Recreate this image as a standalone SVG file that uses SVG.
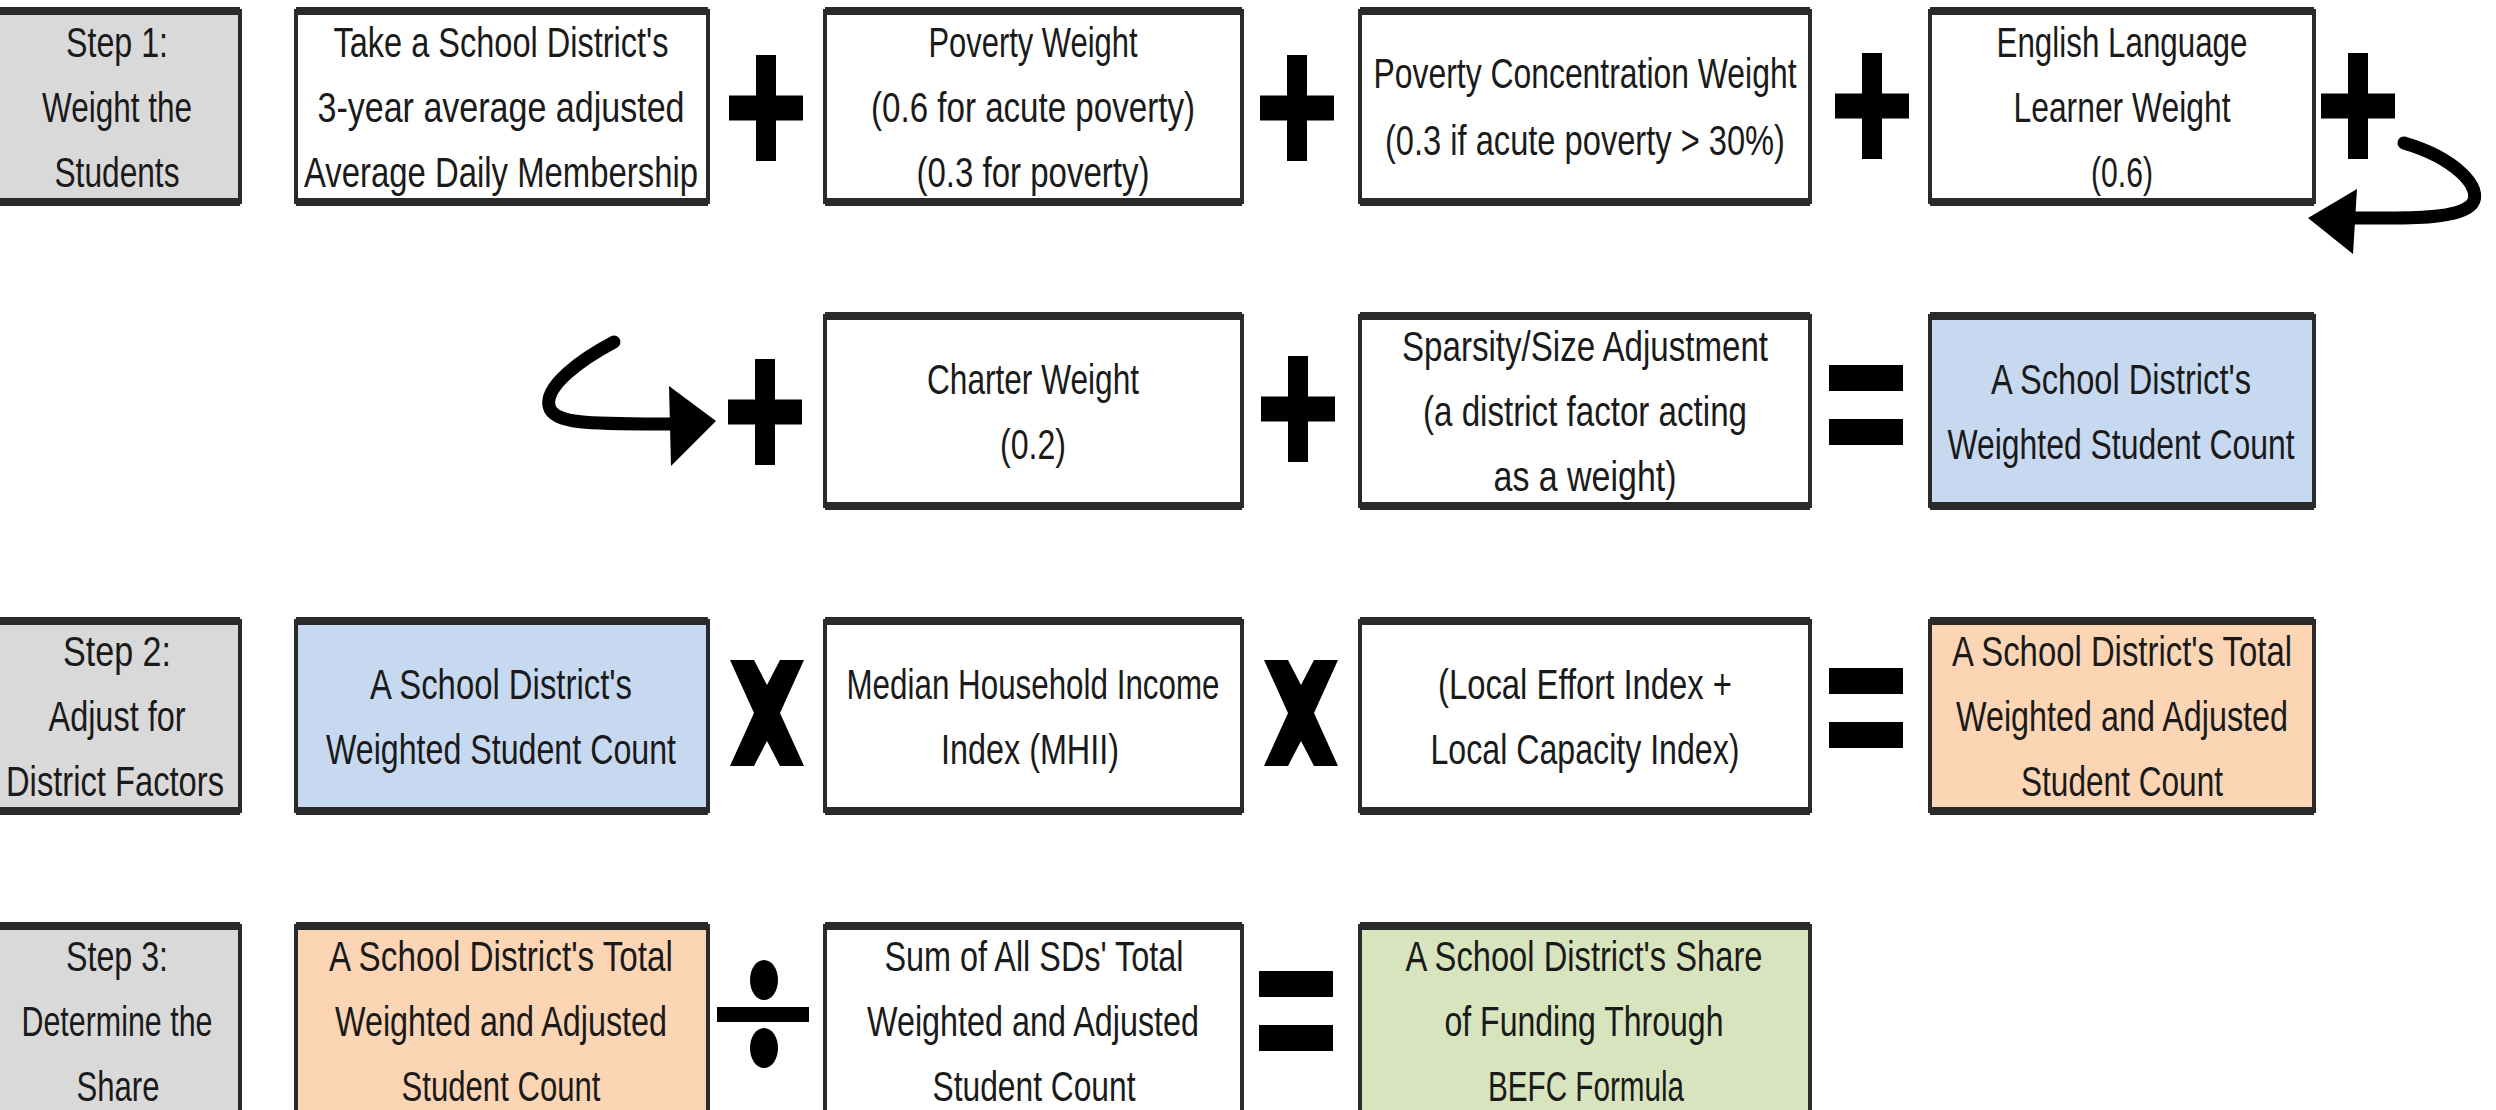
<svg xmlns="http://www.w3.org/2000/svg" width="2496" height="1110" viewBox="0 0 2496 1110">
<style>
.box{stroke:#2a2a2a;stroke-width:4}
.step{fill:#d9d9d9}
.wht{fill:#ffffff}
.blue{fill:#c6d9f0}
.orng{fill:#fcd5b5}
.grn{fill:#d7e4bd}
.hb{fill:none;stroke:#2a2a2a;stroke-width:8}
text{font-family:"Liberation Sans",Arial,sans-serif;font-size:42px;fill:#1a1a1a;text-anchor:middle}
.op{fill:#000}
.arr{fill:none;stroke:#000;stroke-width:13;stroke-linecap:round}
</style>

<!-- Row 1 -->
<g id="n-step1">
<rect class="box step" x="-6" y="11" width="246" height="191"/>
<path class="hb" d="M-6,11H240M-6,202H240"/>
<text x="117" y="56.5" textLength="102" lengthAdjust="spacingAndGlyphs">Step 1:</text>
<text x="117" y="121.5" textLength="150" lengthAdjust="spacingAndGlyphs">Weight the</text>
<text x="117" y="186.5" textLength="125" lengthAdjust="spacingAndGlyphs">Students</text>
</g>
<g id="n-adm">
<rect class="box wht" x="296" y="11" width="412" height="191"/>
<path class="hb" d="M296,11H708M296,202H708"/>
<text x="501" y="56.5" textLength="335" lengthAdjust="spacingAndGlyphs">Take a School District's</text>
<text x="501" y="121.5" textLength="367" lengthAdjust="spacingAndGlyphs">3-year average adjusted</text>
<text x="501" y="186.5" textLength="394" lengthAdjust="spacingAndGlyphs">Average Daily Membership</text>
</g>
<g id="n-poverty">
<rect class="box wht" x="825" y="11" width="417" height="191"/>
<path class="hb" d="M825,11H1242M825,202H1242"/>
<text x="1033" y="56.5" textLength="209" lengthAdjust="spacingAndGlyphs">Poverty Weight</text>
<text x="1033" y="121.5" textLength="324" lengthAdjust="spacingAndGlyphs">(0.6 for acute poverty)</text>
<text x="1033" y="186.5" textLength="233" lengthAdjust="spacingAndGlyphs">(0.3 for poverty)</text>
</g>
<g id="n-povconc">
<rect class="box wht" x="1360" y="11" width="450" height="191"/>
<path class="hb" d="M1360,11H1810M1360,202H1810"/>
<text x="1585" y="88" textLength="423" lengthAdjust="spacingAndGlyphs">Poverty Concentration Weight</text>
<text x="1585" y="155" textLength="400" lengthAdjust="spacingAndGlyphs">(0.3 if acute poverty &gt; 30%)</text>
</g>
<g id="n-ell">
<rect class="box wht" x="1930" y="11" width="384" height="191"/>
<path class="hb" d="M1930,11H2314M1930,202H2314"/>
<text x="2122" y="56.5" textLength="251" lengthAdjust="spacingAndGlyphs">English Language</text>
<text x="2122" y="121.5" textLength="217" lengthAdjust="spacingAndGlyphs">Learner Weight</text>
<text x="2122" y="186.5" textLength="62" lengthAdjust="spacingAndGlyphs">(0.6)</text>
</g>

<!-- Row 2 -->
<g id="n-charter">
<rect class="box wht" x="825" y="316" width="417" height="190"/>
<path class="hb" d="M825,316H1242M825,506H1242"/>
<text x="1033" y="393.5" textLength="212" lengthAdjust="spacingAndGlyphs">Charter Weight</text>
<text x="1033" y="458.5" textLength="66" lengthAdjust="spacingAndGlyphs">(0.2)</text>
</g>
<g id="n-sparsity">
<rect class="box wht" x="1360" y="316" width="450" height="190"/>
<path class="hb" d="M1360,316H1810M1360,506H1810"/>
<text x="1585" y="361" textLength="366" lengthAdjust="spacingAndGlyphs">Sparsity/Size Adjustment</text>
<text x="1585" y="426" textLength="324" lengthAdjust="spacingAndGlyphs">(a district factor acting</text>
<text x="1585" y="491" textLength="183" lengthAdjust="spacingAndGlyphs">as a weight)</text>
</g>
<g id="n-wsc">
<rect class="box blue" x="1930" y="316" width="384" height="190"/>
<path class="hb" d="M1930,316H2314M1930,506H2314"/>
<text x="2121" y="393.5" textLength="260" lengthAdjust="spacingAndGlyphs">A School District's</text>
<text x="2121" y="458.5" textLength="347" lengthAdjust="spacingAndGlyphs">Weighted Student Count</text>
</g>

<!-- Row 3 -->
<g id="n-step2">
<rect class="box step" x="-6" y="621" width="246" height="190"/>
<path class="hb" d="M-6,621H240M-6,811H240"/>
<text x="117" y="666" textLength="108" lengthAdjust="spacingAndGlyphs">Step 2:</text>
<text x="117" y="731" textLength="137" lengthAdjust="spacingAndGlyphs">Adjust for</text>
<text x="115" y="796" textLength="218" lengthAdjust="spacingAndGlyphs">District Factors</text>
</g>
<g id="n-wsc2">
<rect class="box blue" x="296" y="621" width="412" height="190"/>
<path class="hb" d="M296,621H708M296,811H708"/>
<text x="501" y="698.5" textLength="262" lengthAdjust="spacingAndGlyphs">A School District's</text>
<text x="501" y="763.5" textLength="350" lengthAdjust="spacingAndGlyphs">Weighted Student Count</text>
</g>
<g id="n-mhii">
<rect class="box wht" x="825" y="621" width="417" height="190"/>
<path class="hb" d="M825,621H1242M825,811H1242"/>
<text x="1033" y="698.5" textLength="373" lengthAdjust="spacingAndGlyphs">Median Household Income</text>
<text x="1030" y="763.5" textLength="178" lengthAdjust="spacingAndGlyphs">Index (MHII)</text>
</g>
<g id="n-local">
<rect class="box wht" x="1360" y="621" width="450" height="190"/>
<path class="hb" d="M1360,621H1810M1360,811H1810"/>
<text x="1585" y="698.5" textLength="294" lengthAdjust="spacingAndGlyphs">(Local Effort Index +</text>
<text x="1585" y="763.5" textLength="309" lengthAdjust="spacingAndGlyphs">Local Capacity Index)</text>
</g>
<g id="n-twasc">
<rect class="box orng" x="1930" y="621" width="384" height="190"/>
<path class="hb" d="M1930,621H2314M1930,811H2314"/>
<text x="2122" y="666" textLength="340" lengthAdjust="spacingAndGlyphs">A School District's Total</text>
<text x="2122" y="731" textLength="332" lengthAdjust="spacingAndGlyphs">Weighted and Adjusted</text>
<text x="2122" y="796" textLength="202" lengthAdjust="spacingAndGlyphs">Student Count</text>
</g>

<!-- Row 4 -->
<g id="n-step3">
<rect class="box step" x="-6" y="926" width="246" height="190"/>
<path class="hb" d="M-6,926H240"/>
<text x="117" y="971" textLength="102" lengthAdjust="spacingAndGlyphs">Step 3:</text>
<text x="117" y="1036" textLength="191" lengthAdjust="spacingAndGlyphs">Determine the</text>
<text x="118" y="1101" textLength="83" lengthAdjust="spacingAndGlyphs">Share</text>
</g>
<g id="n-twasc2">
<rect class="box orng" x="296" y="926" width="412" height="190"/>
<path class="hb" d="M296,926H708"/>
<text x="501" y="971" textLength="344" lengthAdjust="spacingAndGlyphs">A School District's Total</text>
<text x="501" y="1036" textLength="332" lengthAdjust="spacingAndGlyphs">Weighted and Adjusted</text>
<text x="501" y="1101" textLength="199" lengthAdjust="spacingAndGlyphs">Student Count</text>
</g>
<g id="n-sum">
<rect class="box wht" x="825" y="926" width="417" height="190"/>
<path class="hb" d="M825,926H1242"/>
<text x="1034" y="971" textLength="299" lengthAdjust="spacingAndGlyphs">Sum of All SDs' Total</text>
<text x="1033" y="1036" textLength="332" lengthAdjust="spacingAndGlyphs">Weighted and Adjusted</text>
<text x="1034" y="1101" textLength="203" lengthAdjust="spacingAndGlyphs">Student Count</text>
</g>
<g id="n-share">
<rect class="box grn" x="1360" y="926" width="450" height="190"/>
<path class="hb" d="M1360,926H1810"/>
<text x="1584" y="971" textLength="357" lengthAdjust="spacingAndGlyphs">A School District's Share</text>
<text x="1584" y="1036" textLength="279" lengthAdjust="spacingAndGlyphs">of Funding Through</text>
<text x="1586" y="1101" textLength="196" lengthAdjust="spacingAndGlyphs">BEFC Formula</text>
</g>

<!-- Operators -->
<g id="operators">
<defs>
<g id="plus"><rect x="-37" y="-12.5" width="74" height="25"/><rect x="-10" y="-53" width="20" height="106"/></g>
<polygon id="times" points="-37,-53 -13,-53 0,-28 13,-53 37,-53 13,0 37,53 13,53 0,28 -13,53 -37,53 -13,0"/>
<g id="equals"><rect x="-37" y="-40" width="74" height="26"/><rect x="-37" y="14" width="74" height="26"/></g>
</defs>
<use class="op" href="#plus" x="766" y="108"/>
<use class="op" href="#plus" x="1297" y="108"/>
<use class="op" href="#plus" x="1872" y="106"/>
<use class="op" href="#plus" x="2358" y="106"/>
<use class="op" href="#plus" x="765" y="412"/>
<use class="op" href="#plus" x="1298" y="409"/>
<use class="op" href="#equals" x="1866" y="405"/>
<use class="op" href="#times" x="767" y="713"/>
<use class="op" href="#times" x="1301" y="713"/>
<use class="op" href="#equals" x="1866" y="708"/>
<g class="op">
<ellipse cx="764" cy="980" rx="14" ry="20"/>
<rect x="717" y="1007" width="92" height="15"/>
<ellipse cx="764" cy="1048" rx="14" ry="20"/>
</g>
<use class="op" href="#equals" x="1296" y="1011"/>
</g>

<!-- Connectors -->
<g id="connectors">
<path class="arr" d="M2404,143 C2455,158 2484,188 2472,204 C2458,220 2405,218 2352,218"/>
<polygon class="op" points="2308,218 2357,189 2353,254"/>
<path class="arr" d="M614,342 C580,360 545,386 549,406 C553,425 595,424 672,424"/>
<polygon class="op" points="716,421 669,386 671,466"/>
</g>
</svg>
